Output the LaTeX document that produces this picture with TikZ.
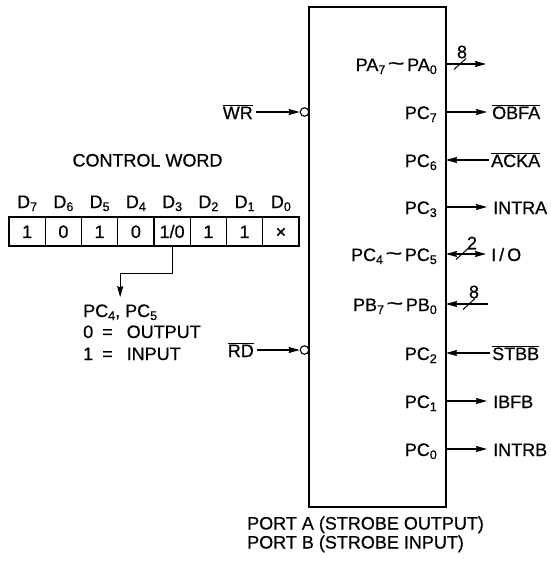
\documentclass[tikz,border=0pt]{standalone}
\usepackage{fontspec}
\usepackage{graphicx}
\setmainfont{Liberation Sans}[FakeBold=0.6]
\usetikzlibrary{arrows.meta}
\newcommand\lsub[1]{\raisebox{-3pt}{\fontsize{12.5}{12.5}\selectfont #1}}
\newcommand\ovl[1]{$\overline{\hbox{#1}}$}
\newcommand\tld{\hspace{2.5pt}\raisebox{1pt}{\scalebox{1.6}[1.1]{\textasciitilde}}\hspace{2.5pt}}
\begin{document}
\begin{tikzpicture}[x=1pt,y=-1pt,
  font=\fontsize{18}{19.5}\selectfont,
  lab/.style={inner sep=0pt},
  tip/.tip={Stealth[length=11pt,width=6pt,inset=1pt]},
  arr/.style={line width=1.1pt,-tip},
  darr/.style={line width=1.1pt,tip-tip},
  cell/.style={draw,line width=1.3pt,minimum width=36.25pt,minimum height=29pt,inner sep=0pt,text height=12.9pt,text depth=0pt},
  bubble/.style={circle,draw,line width=1.1pt,minimum size=8.5pt,inner sep=0pt},
  tick/.style={line width=1pt}]
\useasboundingbox (0,0) rectangle (550,563);

% chip
\node[draw,line width=1.4pt,minimum width=137pt,minimum height=500pt,inner sep=0pt] (chip) at (377.5,257) {};

% edge points
\coordinate (e1) at (446,64);
\coordinate (e2) at (446,112);
\coordinate (e3) at (446,160);
\coordinate (e4) at (446,207);
\coordinate (e5) at (446,254);
\coordinate (e6) at (446,304);
\coordinate (e7) at (446,353);
\coordinate (e8) at (446,401);
\coordinate (e9) at (446,449);
\coordinate (paend) at (486,64);
\coordinate (pbstart) at (488,304);

% inner labels
\node[lab,anchor=base east] (lpa) at (437,71) {PA\lsub{7}\tld PA\lsub{0}};
\node[lab,anchor=base east] (lpc7) at (437,119) {PC\lsub{7}};
\node[lab,anchor=base east] (lpc6) at (437,167) {PC\lsub{6}};
\node[lab,anchor=base east] (lpc3) at (437,214) {PC\lsub{3}};
\node[lab,anchor=base east] (lpc45) at (437,261) {PC\lsub{4}\tld PC\lsub{5}};
\node[lab,anchor=base east] (lpb) at (437,311) {PB\lsub{7}\tld PB\lsub{0}};
\node[lab,anchor=base east] (lpc2) at (437,360) {PC\lsub{2}};
\node[lab,anchor=base east] (lpc1) at (437,408) {PC\lsub{1}};
\node[lab,anchor=base east] (lpc0) at (437,456) {PC\lsub{0}};

% outer labels
\node[lab,anchor=base west] (obfa) at (492,119) {\ovl{OBFA}};
\node[lab,anchor=base west] (acka) at (491,167) {\ovl{ACKA}};
\node[lab,anchor=base west] (intra) at (493,214) {INTRA};
\node[lab,anchor=base west] (io) at (491,261) {I\,/\,O};
\node[lab,anchor=base west] (stbb) at (492,360) {\ovl{STBB}};
\node[lab,anchor=base west] (ibfb) at (493,408) {IBFB};
\node[lab,anchor=base west] (intrb) at (493,456) {INTRB};

% right connectors
\draw[arr] (e1) -- (paend);
\draw[tick] (454,69.5) -- (466,58.5);
\node[lab] (n8a) at (462,52) {8};
\draw[arr,shorten >=5pt] (e2) -- (e2 -| obfa.west);
\draw[arr,shorten <=2pt] (e3 -| acka.west) -- (e3);
\draw[arr,shorten >=6pt] (e4) -- (e4 -| intra.west);
\draw[darr,shorten >=5pt] (e5) -- (e5 -| io.west);
\draw[tick] (456,259.5) -- (468,248.5);
\node[lab] (n2) at (472,243) {2};
\draw[arr] (pbstart) -- (e6);
\draw[tick] (463,309.5) -- (475,298.5);
\node[lab] (n8b) at (474,292) {8};
\draw[arr,shorten <=2pt] (e7 -| stbb.west) -- (e7);
\draw[arr,shorten >=6pt] (e8) -- (e8 -| ibfb.west);
\draw[arr,shorten >=6pt] (e9) -- (e9 -| intrb.west);

% WR and RD
\node[bubble] (bw) at (304.5,112) {};
\node[bubble] (br) at (304.5,350) {};
\node[lab,anchor=base east] (wr) at (253,119) {\ovl{WR}};
\node[lab,anchor=base east] (rd) at (254,357) {\ovl{RD}};
\draw[arr,shorten <=3pt] (wr.east |- bw.west) -- (bw.west);
\draw[arr,shorten <=3pt] (rd.east |- br.west) -- (br.west);

% control word
\node[lab,anchor=base] (cw) at (147.5,166.5) {CONTROL WORD};
\node[cell] (c7) at (27.1,231.5) {1};
\node[cell] (c6) at (63.4,231.5) {0};
\node[cell] (c5) at (99.6,231.5) {1};
\node[cell] (c4) at (135.9,231.5) {0};
\node[cell] (c3) at (172.1,231.5) {1/0};
\node[cell] (c2) at (208.4,231.5) {1};
\node[cell] (c1) at (244.6,231.5) {1};
\node[cell] (c0) at (280.9,231.5) {×};
\node[lab,anchor=base] (d7) at (27.1,208) {D\lsub{7}};
\node[lab,anchor=base] (d6) at (63.4,208) {D\lsub{6}};
\node[lab,anchor=base] (d5) at (99.6,208) {D\lsub{5}};
\node[lab,anchor=base] (d4) at (135.9,208) {D\lsub{4}};
\node[lab,anchor=base] (d3) at (172.1,208) {D\lsub{3}};
\node[lab,anchor=base] (d2) at (208.4,208) {D\lsub{2}};
\node[lab,anchor=base] (d1) at (244.6,208) {D\lsub{1}};
\node[lab,anchor=base] (d0) at (280.9,208) {D\lsub{0}};

% note
\node[lab,anchor=base west] (pcn) at (83,317) {PC\lsub{4}, PC\lsub{5}};
\node[lab,anchor=base west] (out) at (83,338) {0\hspace{9pt}=\hspace{14pt}OUTPUT};
\node[lab,anchor=base west] (inp) at (83,360) {1\hspace{9pt}=\hspace{14pt}INPUT};
\draw[arr,shorten >=7pt] (c3.south) -- ++(0,27) -| (pcn.north);

% port text
\node[lab,anchor=base west] (porta) at (247,529.5) {PORT A (STROBE OUTPUT)};
\node[lab,anchor=base west] (portb) at (247,548.5) {PORT B (STROBE INPUT)};
\end{tikzpicture}
\end{document}
